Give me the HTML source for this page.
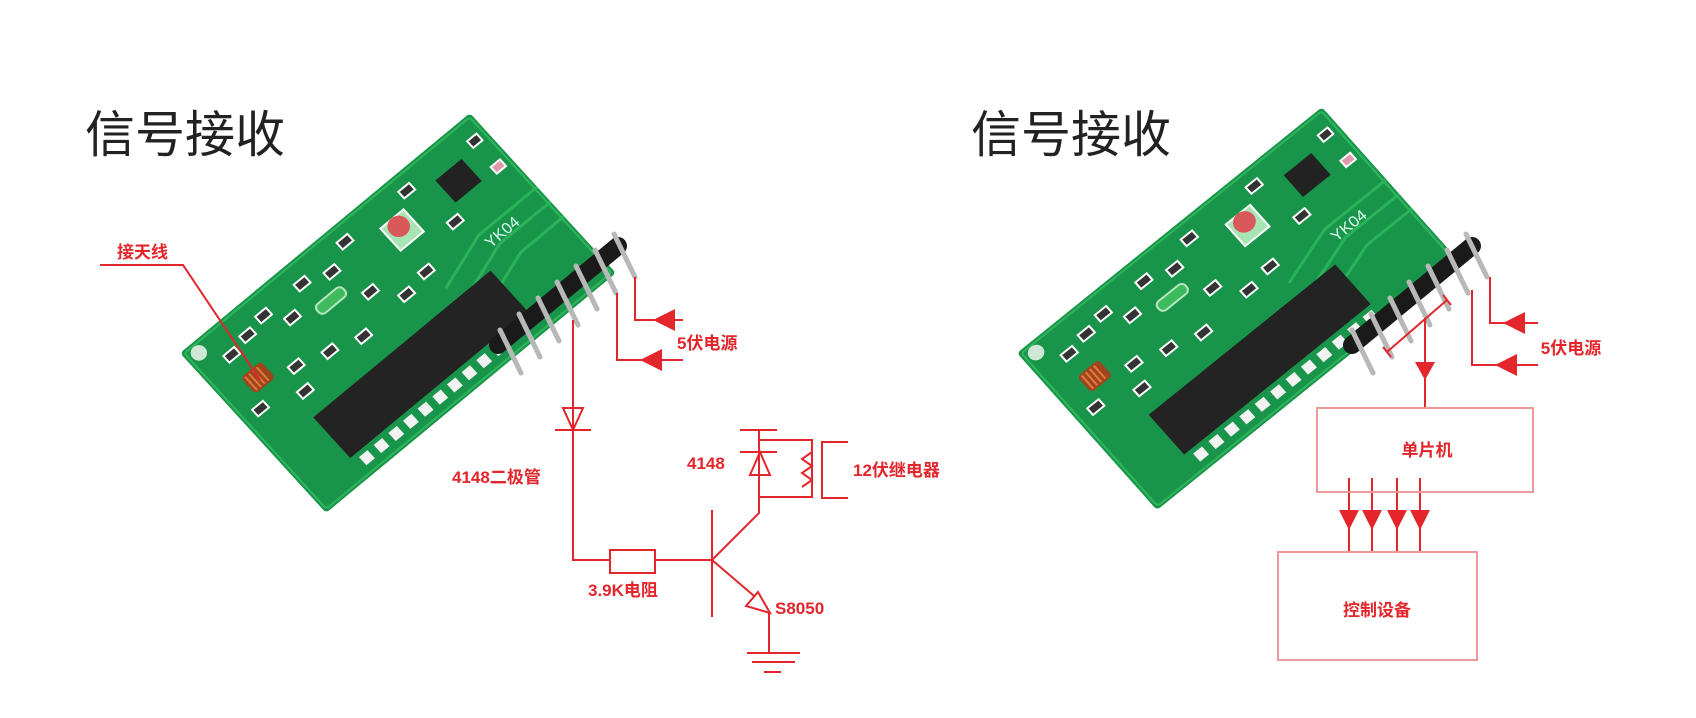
<!DOCTYPE html>
<html><head><meta charset="utf-8"><style>
html,body{margin:0;padding:0;background:#fff;}
svg{display:block;}
.t{font-family:"Liberation Sans","Noto Sans CJK SC",sans-serif;}
</style></head><body>
<svg width="1696" height="718" viewBox="0 0 1696 718" xmlns="http://www.w3.org/2000/svg">
<defs>
<g id="board">
  <rect x="0" y="0" width="376" height="217" rx="4" fill="#18954a"/>
  <rect x="3" y="3" width="370" height="211" rx="3" fill="none" stroke="#2fb55a" stroke-width="2"/>
  <circle cx="14" cy="12" r="8" fill="#cfe8d6"/>
  <path d="M240 120 L300 100 L376 100 M250 140 L310 120 L376 120 M260 160 L320 140 L376 140" stroke="#2bb35a" stroke-width="3" fill="none"/>
  <g stroke="#fff" stroke-width="2">
    <rect x="30" y="30" width="14" height="9" fill="#333"/>
    <rect x="55" y="25" width="14" height="9" fill="#333"/>
    <rect x="80" y="20" width="14" height="9" fill="#333"/>
    <rect x="100" y="40" width="14" height="9" fill="#333"/>
    <rect x="30" y="60" width="14" height="9" fill="#333"/>
    <rect x="70" y="80" width="14" height="9" fill="#333"/>
    <rect x="105" y="90" width="14" height="9" fill="#333"/>
    <rect x="130" y="20" width="14" height="9" fill="#333"/>
    <rect x="160" y="30" width="14" height="9" fill="#333"/>
    <rect x="175" y="70" width="14" height="9" fill="#333"/>
    <rect x="200" y="95" width="14" height="9" fill="#333"/>
    <rect x="190" y="15" width="14" height="9" fill="#333"/>
    <rect x="270" y="15" width="14" height="9" fill="#333"/>
    <rect x="285" y="70" width="14" height="9" fill="#333"/>
    <rect x="355" y="20" width="12" height="9" fill="#333"/>
    <rect x="355" y="55" width="12" height="9" fill="#d9a"/>
    <rect x="140" y="100" width="14" height="9" fill="#333"/>
    <rect x="15" y="90" width="14" height="9" fill="#333"/>
    <rect x="60" y="105" width="14" height="9" fill="#333"/>
    <rect x="230" y="90" width="14" height="9" fill="#333"/>
  </g>
  <rect x="305" y="30" width="34" height="30" fill="#222"/>
  <rect x="232" y="32" width="30" height="30" fill="#a8e4b4" stroke="#fff" stroke-width="2"/>
  <circle cx="247" cy="42" r="11" fill="#d9585a"/>
  <rect x="130" y="50" width="34" height="12" rx="5" fill="#3dbb5e" stroke="#b8e6c0" stroke-width="2"/>
  <rect x="28" y="58" width="26" height="22" rx="4" fill="#a0441e"/>
  <path d="M32 60v18M37 60v18M42 60v18M47 60v18" stroke="#e07a3a" stroke-width="2"/>
  <rect x="55" y="135" width="230" height="55" fill="#232323"/>
  <g fill="#f2f2f2">
    <rect x="62" y="195" width="11" height="11"/><rect x="81" y="195" width="11" height="11"/>
    <rect x="100" y="195" width="11" height="11"/><rect x="119" y="195" width="11" height="11"/>
    <rect x="138" y="195" width="11" height="11"/><rect x="157" y="195" width="11" height="11"/>
    <rect x="176" y="195" width="11" height="11"/><rect x="195" y="195" width="11" height="11"/>
    <rect x="214" y="195" width="11" height="11"/><rect x="233" y="195" width="11" height="11"/>
    <rect x="252" y="195" width="11" height="11"/><rect x="271" y="195" width="11" height="11"/>
  </g>
  <text x="300" y="118" fill="#dfe" font-size="16" class="t">YK04</text>
</g>
</defs>

<text x="85" y="152" class="t" font-size="50" fill="#222">信号接收</text>
<text x="971" y="152" class="t" font-size="50" fill="#222">信号接收</text>

<g transform="matrix(0.771,-0.638,0.673,0.737,180,353)"><use href="#board"/></g>
<g transform="matrix(0.811,-0.654,0.645,0.724,1017,353)"><use href="#board"/></g>

<g stroke-linecap="round">
  <path d="M498 345 L618 246" stroke="#1a1a1a" stroke-width="18"/>
  <g stroke="#b8b8b8" stroke-width="5">
    <path d="M500 330 L521 373"/><path d="M519 314 L540 357"/><path d="M538 298 L559 341"/>
    <path d="M557 282 L578 325"/><path d="M576 266 L597 309"/><path d="M595 250 L616 293"/><path d="M614 234 L635 277"/>
  </g>
  <path d="M1352 345 L1472 246" stroke="#1a1a1a" stroke-width="18"/>
  <g stroke="#b8b8b8" stroke-width="5">
    <path d="M1352 330 L1373 373"/><path d="M1371 314 L1392 357"/><path d="M1390 298 L1411 341"/>
    <path d="M1409 282 L1430 325"/><path d="M1428 266 L1449 309"/><path d="M1447 250 L1468 293"/><path d="M1466 234 L1487 277"/>
  </g>
</g>

<g stroke="#e2262b" stroke-width="2" fill="none">
  <path d="M100 265 L183 265 L260 380"/>
  <path d="M635 277 V320 H683"/>
  <path d="M617 293 V360 H683"/>
  <path d="M573 320 V560 H610"/>
  <path d="M563 408 H583 L573 430 Z"/>
  <path d="M555 430 H591"/>
  <rect x="610" y="550" width="45" height="23"/>
  <path d="M655 560 H712"/>
  <path d="M712 510 V617"/>
  <path d="M712 560 L759 513 V430"/>
  <path d="M740 430 H777 M740 452 H777"/>
  <path d="M750 475 H770 L760 452 Z"/>
  <path d="M759 440 H812 V497 H759"/>
  <path d="M812 452 L802 459 L812 466 L802 473 L812 480 L802 487"/>
  <path d="M848 442 H822 V498 H848"/>
  <path d="M712 560 L767 607"/>
  <path d="M769 612 V653"/>
  <path d="M747 653 H800 M752 662 H795 M764 672 H781"/>
</g>
<g fill="#e2262b">
  <path d="M653 320 L675 309 L675 331 Z"/>
  <path d="M640 360 L662 349 L662 371 Z"/>
</g>
<path d="M770 613 L746 606 L758 592 Z" fill="#fff" stroke="#e2262b" stroke-width="2"/>
<g class="t" fill="#e2262b" font-weight="bold" font-size="17">
  <text x="117" y="258">接天线</text>
  <text x="677" y="349">5伏电源</text>
  <text x="452" y="483">4148二极管</text>
  <text x="687" y="469">4148</text>
  <text x="853" y="476">12伏继电器</text>
  <text x="588" y="596">3.9K电阻</text>
  <text x="775" y="614">S8050</text>
</g>

<g stroke="#e2262b" stroke-width="2" fill="none">
  <path d="M1490 277 V323 H1538"/>
  <path d="M1472 290 V365 H1538"/>
  <path d="M1387 352 L1447 300 M1383 347 L1391 357 M1443 295 L1451 305"/>
  <path d="M1425 318 V408"/>
  <path d="M1349 478 V552 M1372 478 V552 M1397 478 V552 M1420 478 V552"/>
</g>
<g fill="#e2262b">
  <path d="M1503 323 L1525 312 L1525 334 Z"/>
  <path d="M1495 365 L1517 354 L1517 376 Z"/>
  <path d="M1425 380 L1415 362 L1435 362 Z"/>
  <path d="M1349 530 L1339 510 L1359 510 Z"/>
  <path d="M1372 530 L1362 510 L1382 510 Z"/>
  <path d="M1397 530 L1387 510 L1407 510 Z"/>
  <path d="M1420 530 L1410 510 L1430 510 Z"/>
</g>
<g stroke="#ee9a9a" stroke-width="2" fill="none">
  <rect x="1317" y="408" width="216" height="84"/>
  <rect x="1278" y="552" width="199" height="108"/>
</g>
<g class="t" fill="#e2262b" font-weight="bold" font-size="17" text-anchor="middle">
  <text x="1427" y="456">单片机</text>
  <text x="1377" y="616">控制设备</text>
  <text x="1571" y="354">5伏电源</text>
</g>
</svg>
</body></html>
